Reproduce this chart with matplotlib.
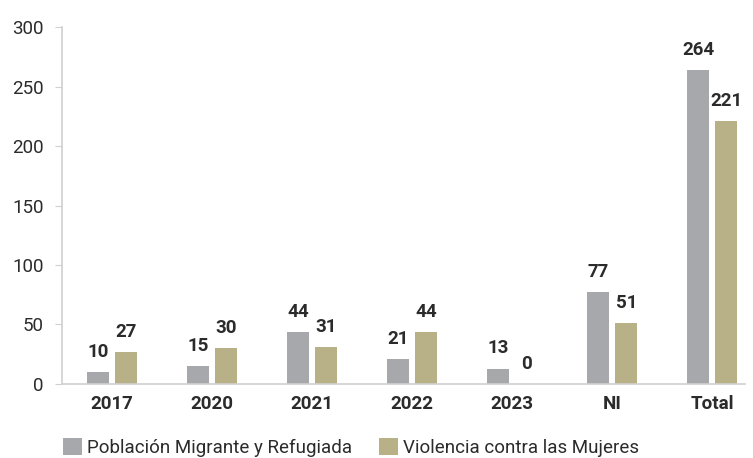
import matplotlib.pyplot as plt
import numpy as np

plt.rcParams['font.family'] = ['Roboto', 'DejaVu Sans']

categories = ['2017', '2020', '2021', '2022', '2023', 'NI', 'Total']
migrante = [10, 15, 44, 21, 13, 77, 264]
violencia = [27, 30, 31, 44, 0, 51, 221]
series_names = ['Población Migrante y Refugiada', 'Violencia contra las Mujeres']

gray = '#a7a8ac'
khaki = '#b8b187'
text_col = '#2b2b2b'
axis_col = '#d0d0d0'

fig = plt.figure(figsize=(7.53, 4.58), dpi=100)
ax = fig.add_axes([0.0823, 0.1616, 0.9077, 0.7794])

x = np.arange(len(categories))
w = 0.22
b1 = ax.bar(x - 0.14, migrante, w, color=gray, label=series_names[0])
b2 = ax.bar(x + 0.14, violencia, w, color=khaki, label=series_names[1])

for bars in (b1, b2):
    ax.bar_label(bars, padding=8, fontsize=13.5, fontweight='bold', color=text_col)

ax.set_ylim(0, 300)
ax.set_xlim(-0.5, 6.33)
ax.set_yticks(range(0, 301, 50))
ax.set_xticks(x)
ax.set_xticklabels(categories, fontweight='bold')

for s in ('top', 'right'):
    ax.spines[s].set_visible(False)
ax.spines['left'].set_color(axis_col)
ax.spines['bottom'].set_color(axis_col)
ax.spines['left'].set_linewidth(1.2)
ax.spines['bottom'].set_linewidth(1.2)

ax.tick_params(axis='y', colors=axis_col, labelcolor=text_col, labelsize=13.5, length=5, pad=8)
ax.tick_params(axis='x', length=0, labelcolor=text_col, labelsize=13.5, pad=8)

fig.legend(handles=[b1, b2], loc='lower left', bbox_to_anchor=(0.061, -0.035), ncol=2,
           frameon=False, fontsize=13.5, handlelength=1.05, handleheight=1.05,
           handletextpad=0.25, columnspacing=1.4, labelcolor=text_col)

fig.savefig('out.png', dpi=100)
